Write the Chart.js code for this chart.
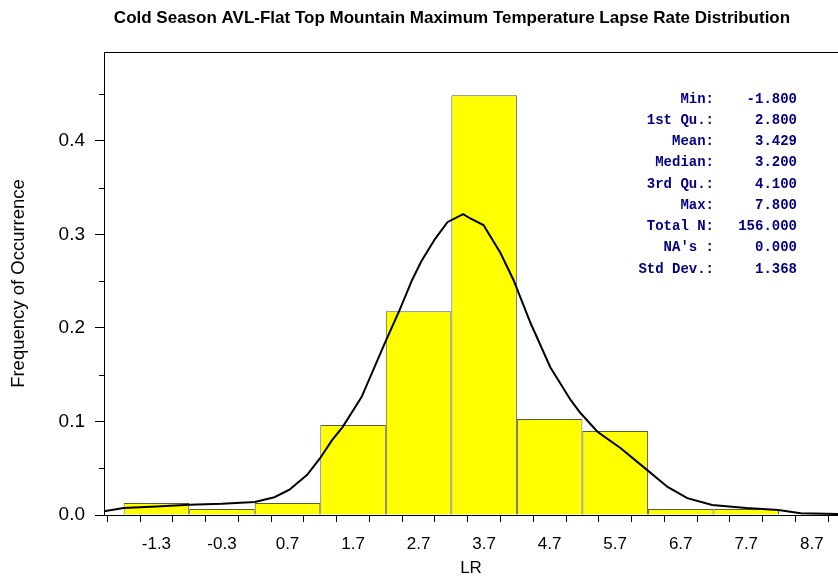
<!DOCTYPE html>
<html>
<head>
<meta charset="utf-8">
<script src="https://cdn.jsdelivr.net/npm/chart.js@4.4.1/dist/chart.umd.min.js"></script>
<style>
    html, body { margin: 0; padding: 0; background: #fff; }
</style>
</head>
<body>
<canvas id="chart1" width="838" height="580"></canvas>
<script>
// histogram: bin centres (bins are 1 wide, -1.8 .. 8.2) and relative frequency
var binCenters = [-1.3, -0.3, 0.7, 1.7, 2.7, 3.7, 4.7, 5.7, 6.7, 7.7];
var binFreq = [0.0128, 0.0064, 0.0128, 0.0962, 0.2179, 0.4487, 0.1026, 0.0897, 0.0064, 0.0064];

// density curve
var curveX = [-2.1, -1.8, -1.3, -0.8, -0.3, 0.2, 0.5, 0.73, 1.0, 1.2, 1.38, 1.54, 1.83, 2.18, 2.41, 2.6, 2.74, 2.95, 3.14, 3.38, 3.49, 3.69, 3.95, 4.15, 4.41, 4.71, 5.02, 5.17, 5.43, 5.78, 6.19, 6.5, 6.8, 7.18, 7.7, 8.19, 8.53, 9.1];
var curveY = [0.004, 0.0075, 0.009, 0.011, 0.012, 0.014, 0.019, 0.027, 0.043, 0.061, 0.080, 0.094, 0.126, 0.183, 0.219, 0.251, 0.271, 0.295, 0.313, 0.3216, 0.317, 0.310, 0.280, 0.251, 0.205, 0.158, 0.123, 0.109, 0.089, 0.0716, 0.048, 0.030, 0.018, 0.0107, 0.0075, 0.0053, 0.002, 0.001];

// axis ticks
var xTickValues = [-1.8, -1.3, -0.8, -0.3, 0.2, 0.7, 1.2, 1.7, 2.2, 2.7, 3.2, 3.7, 4.2, 4.7, 5.2, 5.7, 6.2, 6.7, 7.2, 7.7, 8.2, 8.7];
var xTickLabels = ["-1.3", "-0.3", "0.7", "1.7", "2.7", "3.7", "4.7", "5.7", "6.7", "7.7", "8.7"];
var yTickValues = [0, 0.1, 0.2, 0.3, 0.4];
var yTickLabels = ["0.0", "0.1", "0.2", "0.3", "0.4"];
var yMinorValues = [0.05, 0.15, 0.25, 0.35, 0.45];

// summary box
var statLabels = ["Min:", "1st Qu.:", "Mean:", "Median:", "3rd Qu.:", "Max:", "Total N:", "NA's :", "Std Dev.:"];
var statValues = ["-1.800", "2.800", "3.429", "3.200", "4.100", "7.800", "156.000", "0.000", "1.368"];

var chartTitle = "Cold Season AVL-Flat Top Mountain Maximum Temperature Lapse Rate Distribution";

// extra drawing: title, top frame line, short minor ticks, stats text
var extrasPlugin = {
    id: 'extras',
    afterDraw: function (chart) {
        var ctx = chart.ctx;
        var area = chart.chartArea;
        var y = chart.scales.y;
        ctx.save();
        ctx.strokeStyle = '#000';
        ctx.lineWidth = 1;
        ctx.beginPath();
        ctx.moveTo(area.left, area.top + 0.5);
        ctx.lineTo(area.right, area.top + 0.5);
        yMinorValues.forEach(function (v) {
            var py = Math.round(y.getPixelForValue(v)) + 0.5;
            ctx.moveTo(area.left - 5, py);
            ctx.lineTo(area.left, py);
        });
        ctx.stroke();

        ctx.fillStyle = '#000';
        ctx.font = 'bold 17px "Liberation Sans", Arial, sans-serif';
        ctx.textAlign = 'center';
        ctx.textBaseline = 'middle';
        ctx.fillText(chartTitle, 452, 18);

        ctx.fillStyle = '#000080';
        ctx.font = 'bold 14px "Liberation Mono", "Courier New", monospace';
        ctx.textBaseline = 'middle';
        for (var i = 0; i < statLabels.length; i++) {
            var ty = 99 + i * 21.25;
            ctx.textAlign = 'right';
            ctx.fillText(statLabels[i], 714, ty);
            ctx.fillText(statValues[i], 797, ty);
        }
        ctx.restore();
    }
};

var barData = binCenters.map(function (c, i) { return { x: c, y: binFreq[i] }; });
var lineData = curveX.map(function (c, i) { return { x: c, y: curveY[i] }; });

new Chart("chart1", {
    type: "bar",
    data: {
        datasets: [{
            type: "line",
            data: lineData,
            borderColor: "#000",
            borderWidth: 2,
            pointRadius: 0,
            tension: 0,
            order: 0
        }, {
            type: "bar",
            data: barData,
            backgroundColor: "#ffff00",
            borderColor: "#5a5a40",
            borderWidth: 1,
            // tick spacing (0.5) sets the bar ruler, so 2 x that = one bin
            barPercentage: 2,
            categoryPercentage: 1,
            order: 1
        }]
    },
    plugins: [extrasPlugin],
    options: {
        responsive: false,
        animation: false,
        layout: { padding: { top: 52, left: 0, right: 0, bottom: 0 } },
        plugins: {
            legend: { display: false },
            tooltip: { enabled: false },
            title: { display: false }
        },
        scales: {
            x: {
                type: 'linear',
                offset: false,
                min: -2.1,
                max: 9.1,
                afterBuildTicks: function (scale) {
                    scale.ticks = xTickValues.map(function (v) { return { value: v }; });
                },
                afterFit: function (scale) { scale.height = 65; },
                ticks: {
                    autoSkip: false,
                    maxRotation: 0,
                    padding: 12,
                    color: '#000',
                    font: { family: '"Liberation Sans", Arial, sans-serif', size: 17 },
                    callback: function (v) {
                        var k = Math.round((v + 1.3) * 10);
                        return (k % 10 === 0) ? xTickLabels[k / 10] : '';
                    }
                },
                grid: { drawOnChartArea: false, tickLength: 7, color: '#000' },
                border: { color: '#000', width: 1 },
                title: {
                    display: true,
                    text: 'LR',
                    color: '#000',
                    font: { family: '"Liberation Sans", Arial, sans-serif', size: 17 },
                    padding: { top: 0, bottom: 1 }
                }
            },
            y: {
                min: 0,
                max: 0.495,
                afterBuildTicks: function (scale) {
                    scale.ticks = yTickValues.map(function (v) { return { value: v }; });
                },
                afterFit: function (scale) { scale.width = 104; },
                ticks: {
                    padding: 10,
                    color: '#000',
                    font: { family: '"Liberation Sans", Arial, sans-serif', size: 19 },
                    callback: function (v) {
                        return yTickLabels[Math.round(v * 10)];
                    }
                },
                grid: { drawOnChartArea: false, tickLength: 9, color: '#000' },
                border: { color: '#000', width: 1 },
                title: {
                    display: true,
                    text: 'Frequency of Occurrence',
                    color: '#000',
                    font: { family: '"Liberation Sans", Arial, sans-serif', size: 18.5 },
                    padding: { top: 8, bottom: 0 }
                }
            }
        }
    }
});
</script>
</body>
</html>
